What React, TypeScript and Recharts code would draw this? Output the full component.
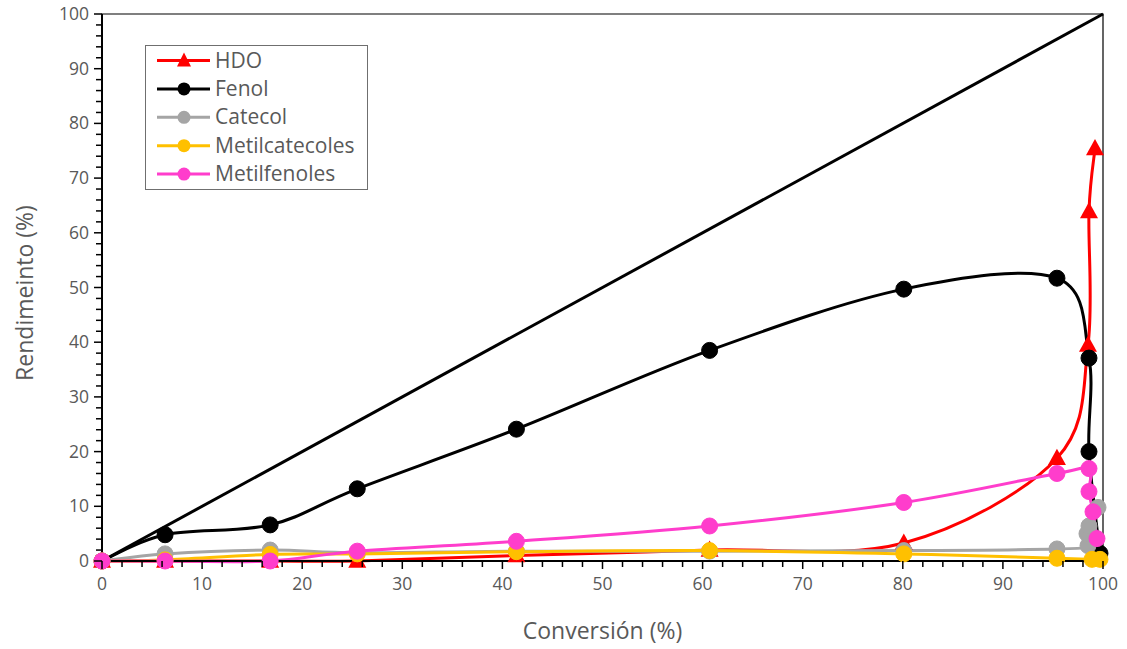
import React from 'react';
import { LineChart, Line, XAxis, YAxis, Legend, ReferenceArea } from 'recharts';

// ---- Data ----
const hdoX = [0, 6.3, 16.8, 25.5, 41.4, 60.7, 80.1, 95.4, 98.5, 98.6, 99.2];
const hdoY = [0, 0, 0, 0, 1.0, 2.0, 3.3, 18.8, 39.5, 63.9, 75.4];

const fenolX = [0, 6.3, 16.8, 25.5, 41.4, 60.7, 80.1, 95.4, 98.6, 98.6, 99.7];
const fenolY = [0, 4.8, 6.6, 13.2, 24.1, 38.5, 49.7, 51.7, 37.1, 20.0, 1.4];

const catecolX = [0, 6.3, 16.8, 25.5, 41.4, 60.7, 80.1, 95.4, 98.5, 98.4, 98.6, 99.5];
const catecolY = [0, 1.3, 2.0, 1.5, 1.8, 1.8, 1.9, 2.2, 2.8, 5.0, 6.4, 9.8];

const metilcatX = [0, 6.3, 16.8, 25.5, 41.4, 60.7, 80.1, 95.4, 98.9, 99.7];
const metilcatY = [0, 0.2, 1.2, 1.3, 1.7, 1.9, 1.3, 0.5, 0.3, 0.3];

const metilfenX = [0, 6.3, 16.8, 25.5, 41.4, 60.7, 80.1, 95.4, 98.6, 98.6, 99.0, 99.4];
const metilfenY = [0, 0, 0, 1.8, 3.6, 6.4, 10.7, 16.0, 16.9, 12.7, 9.0, 4.1];

const diagX = [0, 100];
const diagY = [0, 100];

const xTicks = [0, 2, 4, 6, 8, 10, 12, 14, 16, 18, 20, 22, 24, 26, 28, 30, 32, 34, 36, 38, 40, 42, 44, 46, 48, 50, 52, 54, 56, 58, 60, 62, 64, 66, 68, 70, 72, 74, 76, 78, 80, 82, 84, 86, 88, 90, 92, 94, 96, 98, 100];
const yTicks = xTicks;

const seriesNames = ['HDO', 'Fenol', 'Catecol', 'Metilcatecoles', 'Metilfenoles'];
const seriesColors = ['#FF0000', '#000000', '#A5A5A5', '#FFC000', '#FF3DCC'];

const toPts = (xs: number[], ys: number[]) => xs.map((x, i) => ({ x, y: ys[i] }));

const hdo = toPts(hdoX, hdoY);
const fenol = toPts(fenolX, fenolY);
const catecol = toPts(catecolX, catecolY);
const metilcat = toPts(metilcatX, metilcatY);
const metilfen = toPts(metilfenX, metilfenY);
const diag = toPts(diagX, diagY);

const FONT = '"Open Sans", Lato, sans-serif';
const TXT = '#595959';

// Excel-like smoothed line (Catmull-Rom as cubic Bezier)
const excelCurve: any = (context: any) => {
  let pts: number[][] = [];
  return {
    areaStart() {},
    areaEnd() {},
    lineStart() {
      pts = [];
    },
    point(x: number, y: number) {
      pts.push([+x, +y]);
    },
    lineEnd() {
      const n = pts.length;
      if (!n) return;
      context.moveTo(pts[0][0], pts[0][1]);
      for (let i = 0; i < n - 1; i++) {
        const p0 = pts[i - 1] || pts[i];
        const p1 = pts[i];
        const p2 = pts[i + 1];
        const p3 = pts[i + 2] || p2;
        const c1x = p1[0] + (p2[0] - p0[0]) / 6;
        const c1y = p1[1] + (p2[1] - p0[1]) / 6;
        const c2x = p2[0] - (p3[0] - p1[0]) / 6;
        const c2y = p2[1] - (p3[1] - p1[1]) / 6;
        context.bezierCurveTo(c1x, c1y, c2x, c2y, p2[0], p2[1]);
      }
    },
  };
};

const XTick = (props: any) => {
  const { x, y, payload } = props;
  const v = payload.value;
  const major = v % 10 === 0;
  return (
    <g>
      <line x1={x} x2={x} y1={y} y2={y + (major ? 8 : 6)} stroke="#000" strokeWidth={1.5} />
      {major && (
        <text x={x} y={y + 29} textAnchor="middle" fill={TXT} fontSize={17.5} fontFamily={FONT}>
          {v}
        </text>
      )}
    </g>
  );
};

const YTick = (props: any) => {
  const { x, y, payload } = props;
  const v = payload.value;
  const major = v % 10 === 0;
  return (
    <g>
      <line x1={x - (major ? 8 : 6)} x2={x} y1={y} y2={y} stroke="#000" strokeWidth={1.5} />
      {major && (
        <text x={x - 13} y={y + 6} textAnchor="end" fill={TXT} fontSize={17.5} fontFamily={FONT}>
          {v}
        </text>
      )}
    </g>
  );
};

const Triangle = (props: any) => {
  const { cx, cy, index, fill, r } = props;
  if (cx == null || cy == null) return <g key={`t-${index}`} />;
  const s = r || 9;
  return (
    <polygon
      key={`t-${index}`}
      points={`${cx},${cy - s * 1.05} ${cx - s},${cy + s * 0.75} ${cx + s},${cy + s * 0.75}`}
      fill={fill || '#FF0000'}
    />
  );
};

const LegendContent = () => (
  <div
    style={{
      width: 223,
      height: 145,
      border: '1px solid #6f6f6f',
      boxSizing: 'border-box',
      background: '#fff',
    }}
  >
    <svg width={221} height={143}>
      {seriesNames.map((name, i) => {
        const cy = 14.5 + i * 28.4;
        const c = seriesColors[i];
        return (
          <g key={name}>
            <line x1={11} x2={64} y1={cy} y2={cy} stroke={c} strokeWidth={3} />
            {i === 0 ? (
              <polygon points={`${38},${cy - 8} ${31},${cy + 6} ${45},${cy + 6}`} fill={c} />
            ) : (
              <circle cx={38} cy={cy} r={6.5} fill={c} />
            )}
            <text x={69} y={cy + 7} fill={TXT} fontSize={21} fontFamily={FONT}>
              {name}
            </text>
          </g>
        );
      })}
    </svg>
  </div>
);

const circleDot = (c: string) => ({ r: 8, fill: c, stroke: c, strokeWidth: 1 });

export default function App() {
  return (
    <div style={{ position: 'absolute', left: 0, top: 0, background: '#fff' }}>
      <LineChart width={1127} height={649} margin={{ top: 14, right: 24, bottom: 38, left: 42 }}>
        <ReferenceArea x1={0} x2={100} y1={0} y2={100} fill="none" fillOpacity={0} stroke="#000" strokeWidth={1.2} ifOverflow="visible" />
        <XAxis
          dataKey="x"
          type="number"
          domain={[0, 100]}
          ticks={xTicks}
          interval={0}
          height={50}
          tickSize={0}
          tickMargin={0}
          tickLine={false}
          axisLine={{ stroke: '#000', strokeWidth: 2 }}
          tick={<XTick />}
          label={{
            content: (p: any) => {
              const vb = p.viewBox || {};
              return (
                <text x={vb.x + vb.width / 2} y={639} textAnchor="middle" fill={TXT} fontSize={23} fontFamily={FONT}>
                  Conversión (%)
                </text>
              );
            },
          }}
        />
        <YAxis
          type="number"
          domain={[0, 100]}
          ticks={yTicks}
          interval={0}
          width={60}
          tickSize={0}
          tickMargin={0}
          tickLine={false}
          axisLine={{ stroke: '#000', strokeWidth: 2 }}
          tick={<YTick />}
          label={{
            content: () => (
              <text x={33} y={293} transform="rotate(-90 33 293)" textAnchor="middle" fill={TXT} fontSize={23} fontFamily={FONT}>
                Rendimeinto (%)
              </text>
            ),
          }}
        />
        <Legend
          layout="vertical"
          align="center"
          verticalAlign="middle"
          content={<LegendContent />}
          wrapperStyle={{ left: 145, top: 45, width: 223, height: 145 }}
        />
        <Line
          data={hdo}
          dataKey="y"
          name="HDO"
          type={excelCurve}
          stroke={seriesColors[0]}
          strokeWidth={3}
          dot={(p: any) => <Triangle {...p} fill={seriesColors[0]} r={9} />}
          activeDot={false}
          isAnimationActive={false}
        />
        <Line
          data={fenol}
          dataKey="y"
          name="Fenol"
          type={excelCurve}
          stroke={seriesColors[1]}
          strokeWidth={3}
          dot={circleDot(seriesColors[1])}
          activeDot={false}
          isAnimationActive={false}
        />
        <Line
          data={catecol}
          dataKey="y"
          name="Catecol"
          type={excelCurve}
          stroke={seriesColors[2]}
          strokeWidth={3}
          dot={circleDot(seriesColors[2])}
          activeDot={false}
          isAnimationActive={false}
        />
        <Line
          data={metilcat}
          dataKey="y"
          name="Metilcatecoles"
          type={excelCurve}
          stroke={seriesColors[3]}
          strokeWidth={3}
          dot={circleDot(seriesColors[3])}
          activeDot={false}
          isAnimationActive={false}
        />
        <Line
          data={metilfen}
          dataKey="y"
          name="Metilfenoles"
          type={excelCurve}
          stroke={seriesColors[4]}
          strokeWidth={3}
          dot={circleDot(seriesColors[4])}
          activeDot={false}
          isAnimationActive={false}
        />
        <Line
          data={diag}
          dataKey="y"
          name="diagonal"
          type="linear"
          stroke="#000"
          strokeWidth={3}
          dot={false}
          activeDot={false}
          legendType="none"
          isAnimationActive={false}
        />
      </LineChart>
    </div>
  );
}
